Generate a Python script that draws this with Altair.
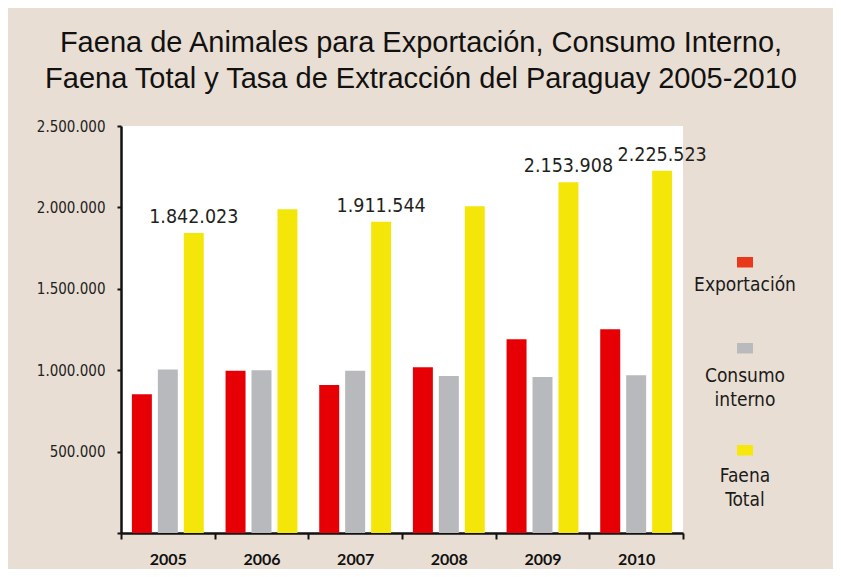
import altair as alt
import pandas as pd

years = ["2005", "2006", "2007", "2008", "2009", "2010"]
series = ["Exportación", "Consumo interno", "Faena Total"]
exportacion = [852000, 997000, 909000, 1018000, 1190000, 1251000]
consumo_interno = [1005000, 999000, 997000, 964000, 958000, 969000]
faena_total = [1842023, 1988000, 1911544, 2007000, 2153908, 2225523]
faena_labels = ["1.842.023", "", "1.911.544", "", "2.153.908", "2.225.523"]
bar_colors = ["#E60005", "#B8B9BC", "#F5E60A"]
legend_colors = ["#E8391A", "#B9BABD", "#F5E80A"]
y_ticks = [0, 500000, 1000000, 1500000, 2000000, 2500000]
title_lines = [
    "Faena de Animales para Exportación, Consumo Interno,",
    "Faena Total y Tasa de Extracción del Paraguay 2005-2010",
]

NARROW = "'Liberation Sans Narrow', 'DejaVu Sans Condensed', 'Roboto', sans-serif"

rows = []
for i, yr in enumerate(years):
    for s, vals in zip(series, [exportacion, consumo_interno, faena_total]):
        rows.append({
            "year": yr,
            "series": s,
            "value": vals[i],
            "label": faena_labels[i] if s == "Faena Total" else "",
        })
df = pd.DataFrame(rows)

x_enc = alt.X(
    "year:N", sort=years,
    scale=alt.Scale(paddingInner=0, paddingOuter=0),
    axis=alt.Axis(
        title=None, labelAngle=0, tickBand="extent",
        labelFont="Lato", labelFontWeight="bold", labelFontSize=16,
        labelColor="#111111", labelPadding=12,
        tickSize=6, tickWidth=2, tickColor="#111111",
        domainColor="#111111", domainWidth=2.5,
    ),
)
xoff_enc = alt.XOffset(
    "series:N", sort=series,
    scale=alt.Scale(paddingInner=0.23, paddingOuter=0.42),
)
y_enc = alt.Y(
    "value:Q",
    scale=alt.Scale(domain=[0, 2500000], nice=False),
    axis=alt.Axis(
        title=None, grid=False, values=y_ticks,
        labelExpr="datum.value == 0 ? '' : replace(format(datum.value, ',.0f'), /,/g, '.')",
        labelFont=NARROW, labelFontSize=15, labelColor="#222222",
        labelPadding=12, tickSize=4, tickWidth=2, tickColor="#111111",
        domainColor="#111111", domainWidth=2.5,
    ),
)

base = alt.Chart(df)

bars = base.mark_bar().encode(
    x=x_enc, xOffset=xoff_enc, y=y_enc,
    color=alt.Color("series:N", scale=alt.Scale(domain=series, range=bar_colors), legend=None),
)

labels = base.transform_filter("datum.label != ''").mark_text(
    dy=-10, baseline="alphabetic", align="center",
    font=NARROW, fontSize=19.5, color="#231F20",
).encode(x=x_enc, xOffset=xoff_enc, y=y_enc, text="label:N")

# manual legend (to the right of the plot, label under the swatch)
sq_x = (616, 632)
sq_y = [131, 217, 319]
txt_x = 624
txt_y = [165, 256, 356]
legend_layers = []
for i, (name, col) in enumerate(zip(series, legend_colors)):
    d = alt.Data(values=[{"name": name}])
    legend_layers.append(
        alt.Chart(d).mark_rect().encode(
            x=alt.value(sq_x[0]), x2=alt.value(sq_x[1]),
            y=alt.value(sq_y[i]), y2=alt.value(sq_y[i] + 10.5),
            color=alt.value(col),
        )
    )
    legend_layers.append(
        alt.Chart(d).mark_text(
            lineBreak=" ", align="center", baseline="alphabetic",
            font=NARROW, fontSize=19, lineHeight=24, color="#1a1a1a",
        ).encode(x=alt.value(txt_x), y=alt.value(txt_y[i]), text="name:N")
    )

chart = alt.layer(bars, labels, *legend_layers).properties(
    width=562, height=407,
    title=alt.Title(
        title_lines, fontSize=29, font="Liberation Sans", fontWeight="normal",
        color="#111111", lineHeight=36, anchor="middle", dx=19, offset=25,
    ),
    padding={"left": 113, "top": 118, "right": 150, "bottom": 36},
    autosize=alt.AutoSizeParams(type="none"),
).configure(
    background="#E9DED3",
).configure_view(fill="white", strokeWidth=0)

chart.save("out.html", embed_options={"renderer": "svg", "actions": False})
